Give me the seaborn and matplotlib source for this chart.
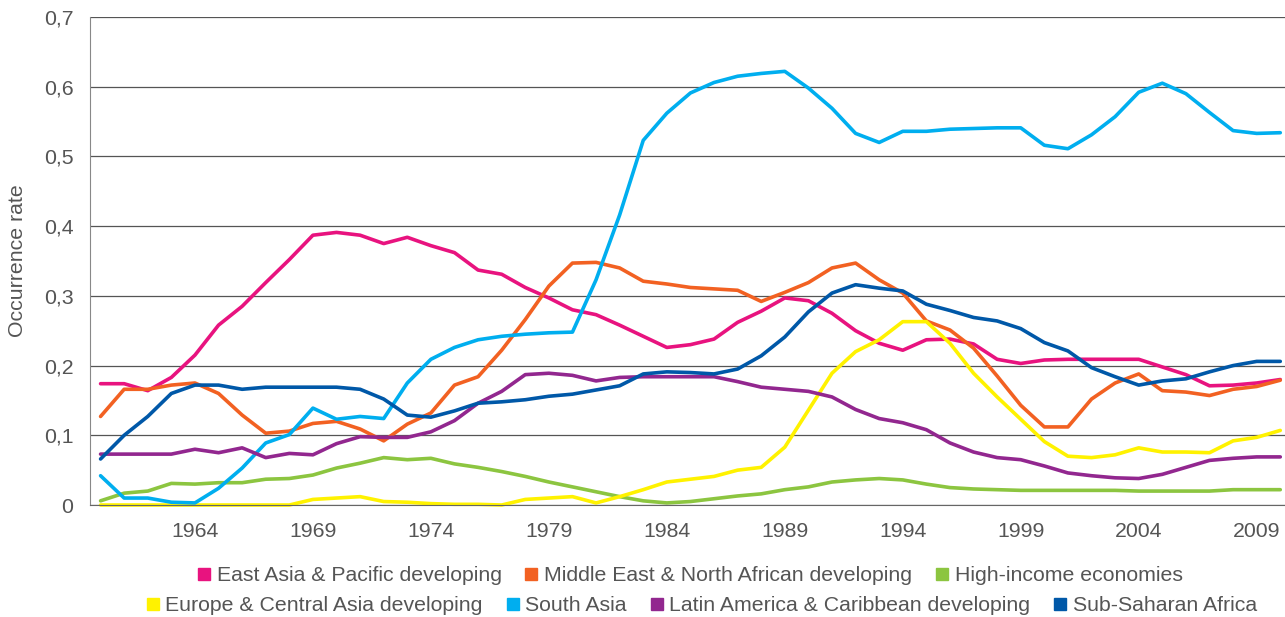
import pandas as pd
import matplotlib
matplotlib.use('Agg')
import matplotlib.pyplot as plt
from matplotlib.lines import Line2D
from matplotlib.ticker import FuncFormatter
import seaborn as sns

# Datos (1960-2010)
years = list(range(1960, 2011))

east_asia = [0.174, 0.174, 0.164, 0.183, 0.215, 0.258, 0.285, 0.319, 0.352, 0.387,
             0.391, 0.387, 0.375, 0.384, 0.372, 0.362, 0.337, 0.331, 0.312, 0.297,
             0.280, 0.273, 0.258, 0.242, 0.226, 0.230, 0.238, 0.262, 0.278, 0.297,
             0.293, 0.275, 0.250, 0.232, 0.222, 0.237, 0.238, 0.231, 0.209, 0.203,
             0.208, 0.209, 0.209, 0.209, 0.209, 0.198, 0.187, 0.171, 0.172, 0.175, 0.180]
middle_east = [0.127, 0.166, 0.166, 0.172, 0.175, 0.160, 0.129, 0.103, 0.106, 0.117,
               0.120, 0.109, 0.092, 0.116, 0.132, 0.172, 0.184, 0.222, 0.266, 0.314,
               0.347, 0.348, 0.340, 0.321, 0.317, 0.312, 0.310, 0.308, 0.292, 0.305,
               0.319, 0.340, 0.347, 0.323, 0.304, 0.264, 0.251, 0.225, 0.185, 0.143,
               0.112, 0.112, 0.152, 0.175, 0.188, 0.164, 0.162, 0.157, 0.166, 0.170, 0.179]
high_income = [0.006, 0.017, 0.020, 0.031, 0.030, 0.032, 0.032, 0.037, 0.038, 0.043,
               0.053, 0.060, 0.068, 0.065, 0.067, 0.059, 0.054, 0.048, 0.041, 0.033,
               0.026, 0.019, 0.012, 0.006, 0.003, 0.005, 0.009, 0.013, 0.016, 0.022,
               0.026, 0.033, 0.036, 0.038, 0.036, 0.030, 0.025, 0.023, 0.022, 0.021,
               0.021, 0.021, 0.021, 0.021, 0.020, 0.020, 0.020, 0.020, 0.022, 0.022, 0.022]
europe = [0.0, 0.0, 0.0, 0.0, 0.0, 0.0, 0.0, 0.0, 0.0, 0.008,
          0.010, 0.012, 0.005, 0.004, 0.002, 0.001, 0.001, 0.000, 0.008, 0.010,
          0.012, 0.003, 0.012, 0.022, 0.033, 0.037, 0.041, 0.050, 0.054, 0.083,
          0.136, 0.189, 0.220, 0.237, 0.263, 0.263, 0.232, 0.189, 0.155, 0.123,
          0.091, 0.070, 0.068, 0.072, 0.082, 0.076, 0.076, 0.075, 0.092, 0.097, 0.107]
south_asia = [0.042, 0.010, 0.010, 0.004, 0.003, 0.024, 0.053, 0.089, 0.101, 0.139,
              0.123, 0.127, 0.124, 0.175, 0.209, 0.226, 0.237, 0.242, 0.245, 0.247,
              0.248, 0.323, 0.416, 0.523, 0.562, 0.591, 0.606, 0.615, 0.619, 0.622,
              0.598, 0.569, 0.533, 0.520, 0.536, 0.536, 0.539, 0.540, 0.541, 0.541,
              0.516, 0.511, 0.531, 0.557, 0.592, 0.605, 0.590, 0.563, 0.537, 0.533, 0.534]
latin_america = [0.073, 0.073, 0.073, 0.073, 0.080, 0.075, 0.082, 0.068, 0.074, 0.072,
                 0.088, 0.098, 0.097, 0.097, 0.105, 0.121, 0.146, 0.163, 0.187, 0.189,
                 0.186, 0.178, 0.183, 0.184, 0.184, 0.184, 0.184, 0.177, 0.169, 0.166,
                 0.163, 0.155, 0.137, 0.124, 0.118, 0.108, 0.089, 0.076, 0.068, 0.065,
                 0.056, 0.046, 0.042, 0.039, 0.038, 0.044, 0.054, 0.064, 0.067, 0.069, 0.069]
sub_saharan = [0.066, 0.100, 0.127, 0.160, 0.172, 0.172, 0.166, 0.169, 0.169, 0.169,
               0.169, 0.166, 0.152, 0.129, 0.126, 0.135, 0.146, 0.148, 0.151, 0.156,
               0.159, 0.165, 0.171, 0.188, 0.191, 0.190, 0.188, 0.195, 0.214, 0.241,
               0.277, 0.304, 0.316, 0.311, 0.307, 0.288, 0.279, 0.269, 0.264, 0.253,
               0.233, 0.221, 0.197, 0.184, 0.172, 0.178, 0.181, 0.191, 0.200, 0.206, 0.206]

regions = ['East Asia & Pacific developing', 'Middle East & North African developing',
           'High-income economies', 'Europe & Central Asia developing', 'South Asia',
           'Latin America & Caribbean developing', 'Sub-Saharan Africa']
series = [east_asia, middle_east, high_income, europe, south_asia, latin_america, sub_saharan]
colors = ['#E8137F', '#F26122', '#8CC540', '#FFF200', '#00AEEF', '#92278F', '#0058A8']
palette = dict(zip(regions, colors))

rows = []
for region, vals in zip(regions, series):
    for y, v in zip(years, vals):
        rows.append({'year': y, 'rate': v, 'region': region})
data = pd.DataFrame(rows)

sns.set_style('white')
plt.rcParams['font.family'] = ['Liberation Sans', 'DejaVu Sans']
text_color = '#555555'
fs = 15.3

fig = plt.figure(figsize=(12.85, 6.17), dpi=100)
ax = fig.add_axes([0.070, 0.1815, 0.930, 0.791])

sns.lineplot(data=data, x='year', y='rate', hue='region', hue_order=regions,
             palette=palette, linewidth=2.6, legend=False, ax=ax)
for line in ax.lines:
    line.set_clip_on(False)

ax.set_xlim(1959.55, 2010.2)
ax.set_ylim(0, 0.7)
ax.set_xticks(range(1964, 2010, 5))
ax.set_yticks([i / 10 for i in range(8)])
ax.yaxis.set_major_formatter(FuncFormatter(lambda v, p: '0' if v == 0 else f'{v:.1f}'.replace('.', ',')))
ax.grid(axis='y', color='#555555', linewidth=0.9)
ax.set_axisbelow(True)
ax.tick_params(axis='x', direction='in', length=5, width=1, color='#555555',
               labelsize=fs, labelcolor=text_color, pad=12)
ax.tick_params(axis='y', length=0, labelsize=fs, labelcolor=text_color, pad=12)
for s in ['top', 'right']:
    ax.spines[s].set_visible(False)
ax.spines['left'].set_color('#888888')
ax.spines['bottom'].set_color('#666666')
ax.set_xlabel('')
ax.set_ylabel('Occurrence rate', fontsize=fs, color=text_color, labelpad=12)

def handles(names):
    return [Line2D([], [], marker='s', linestyle='none', markersize=9,
                   markerfacecolor=palette[n], markeredgecolor=palette[n]) for n in names]

row1 = regions[:3]
row2 = regions[3:]
leg_kw = dict(frameon=False, fontsize=fs, handlelength=0.6, handletextpad=0.3,
              columnspacing=1.1, labelcolor=text_color, borderpad=0)
fig.legend(handles(row1), row1, loc='center', bbox_to_anchor=(0.537, 0.067), ncol=3, **leg_kw)
fig.legend(handles(row2), row2, loc='center', bbox_to_anchor=(0.546, 0.018), ncol=4, **leg_kw)

fig.savefig('out.png', dpi=100)
